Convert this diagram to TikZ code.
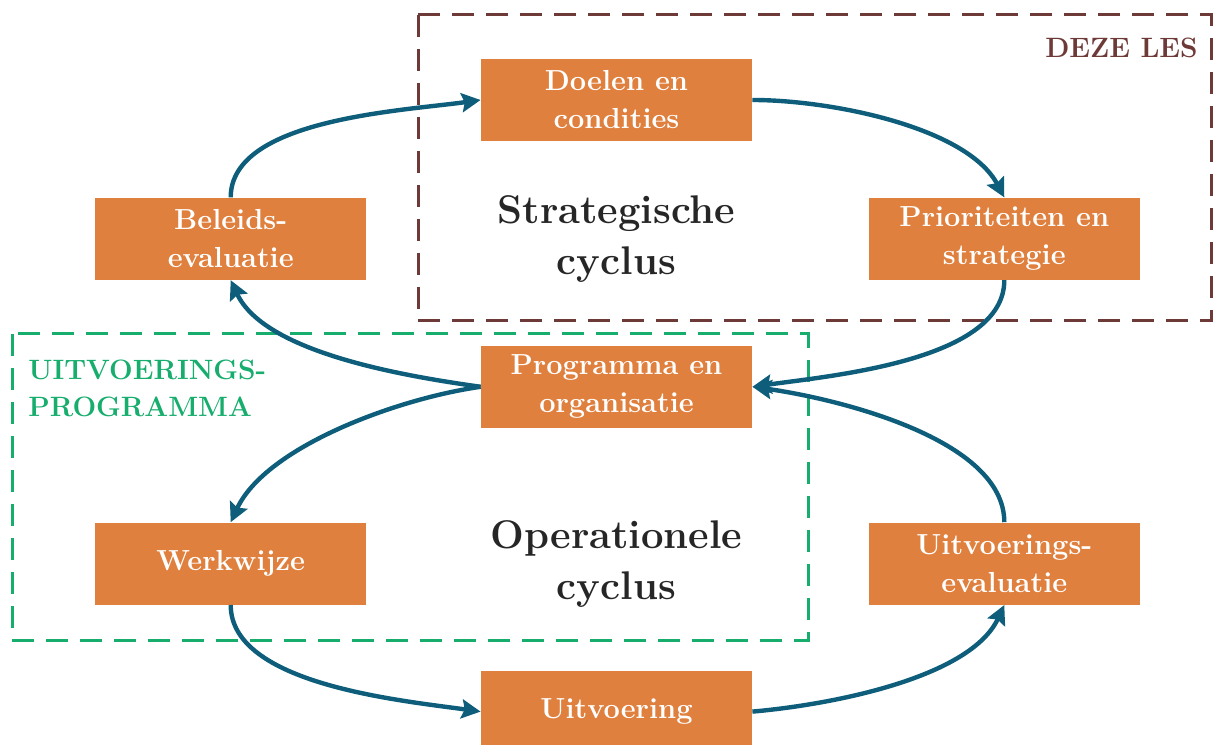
\documentclass[tikz,border=0pt]{standalone}
\usepackage{xcolor}
\usepackage{tikz}
\usetikzlibrary{arrows.meta}
\usetikzlibrary{positioning}

\definecolor{staporanje}{HTML}{E0803E}
\definecolor{pijlblauw}{HTML}{0E5E7B}
\definecolor{lesbruin}{HTML}{6E3A38}
\definecolor{progrgroen}{HTML}{17AD6D}
\definecolor{cyclusgrijs}{HTML}{262626}

\begin{document}
\begin{tikzpicture}[x=.5pt, y=.5pt]

        \def\dh{57pt}
        \def\dv{28pt}
        \def\dw{47pt}

        % Stijlen voor de stappen, de pijlen en de kaders
        \tikzset{
            stap/.style={fill=staporanje, text=white, align=center,
                minimum width=135.5pt, minimum height=41pt, inner sep=0pt,
                font=\fontsize{14.5}{19}\selectfont\bfseries},
            cyclus/.style={text=cyclusgrijs, align=center,
                font=\fontsize{20}{25.5}\selectfont\bfseries},
            kader/.style={line width=1.5pt, dash pattern=on 11pt off 6pt},
            pijl/.style={draw=pijlblauw, line width=2.2pt, looseness=.75,
                -{Stealth[length=9.5pt, width=9.5pt, inset=1.5pt]}},
            kaderlabel/.style={align=left, inner sep=0pt,
                font=\fontsize{14}{18.5}\selectfont\bfseries}
        }

        \useasboundingbox (0, 0) rectangle (1213, 744);

        % Kaders met hun opschrift
        \draw[kader, lesbruin] (418, 729) rectangle (1211, 423);
        \node[kaderlabel, text=lesbruin, anchor=east] (Les) at (1198, 696)
        {DEZE LES};
        \draw[kader, progrgroen] (12, 410) rectangle (808, 104);
        \node[kaderlabel, text=progrgroen, anchor=west] (UP) at (28, 356)
        {UITVOERINGS-\\PROGRAMMA};

        % De stappen van beide cycli
        \begin{scope}
            \node[stap] (Doel) at (616.5, 644) {Doelen en\\condities};
            \node[stap] (Beleid) [below left=\dv and \dh of Doel]
            {Beleids-\\evaluatie};
            \node[stap] (Prio) [below right=\dv and 58pt of Doel]
            {Prioriteiten en\\strategie};
            \node[stap] (Prog) [below=102pt of Doel]
            {Programma en\\organisatie};
            \node[stap] (Werk) [below left=\dw and \dh of Prog]
            {Werkwijze};
            \node[stap] (UEval) [below right=\dw and 58pt of Prog]
            {Uitvoerings-\\evaluatie};
            \node[stap] (Uitv) [below=121pt of Prog] {Uitvoering};

            \node[cyclus] (Strat) at (Doel |- Beleid)
            {Strategische\\cyclus};
            \node[cyclus] (Oper) at (Prog |- Werk)
            {Operationele\\cyclus};
        \end{scope}

        \begin{scope}[pijl]
            \draw (Beleid.north) to[out=90, in=188] (Doel.west);
            \draw (Doel.east) to[out=0, in=118] (Prio.north);
            \draw (Prio.south) to[out=-90, in=8] (Prog.east);
            \draw (UEval.north) to[out=90, in=-8] (Prog.east);
            \draw (Prog.west) to[out=172, in=-65] (Beleid.south);
            \draw (Prog.west) to[out=188, in=65] (Werk.north);
            \draw (Werk.south) to[out=-90, in=172] (Uitv.west);
            \draw (Uitv.east) to[out=5, in=-115] (UEval.south);
        \end{scope}

\end{tikzpicture}
\end{document}
